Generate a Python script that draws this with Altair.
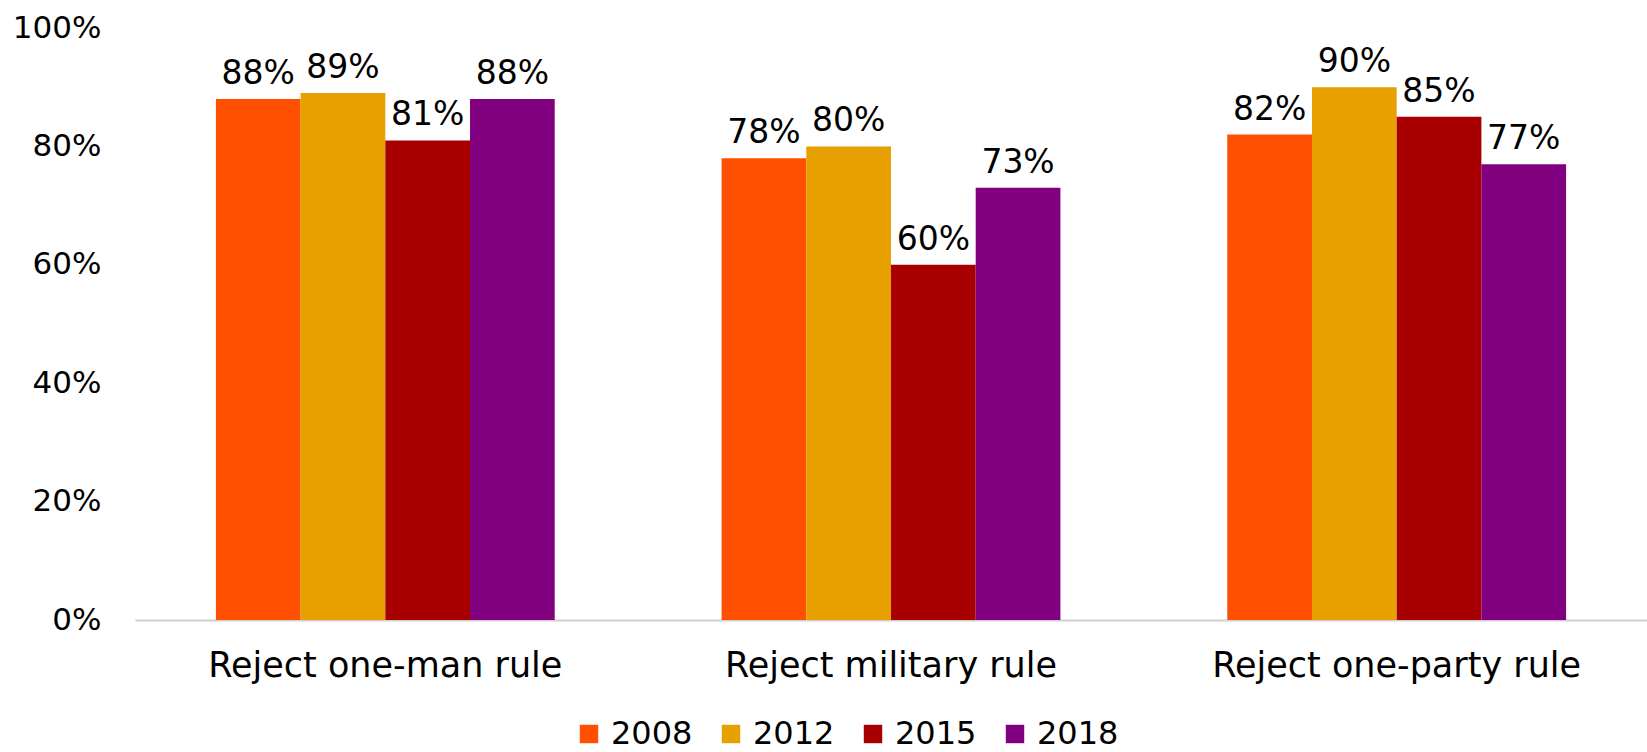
import altair as alt
import pandas as pd

categories = ["Reject one-man rule", "Reject military rule", "Reject one-party rule"]
years = ["2008", "2012", "2015", "2018"]
values_2008 = [88, 78, 82]
values_2012 = [89, 80, 90]
values_2015 = [81, 60, 85]
values_2018 = [88, 73, 77]
colors = ["#FF4F00", "#E8A000", "#A80000", "#800080"]

rows = []
for yr, vals in zip(years, [values_2008, values_2012, values_2015, values_2018]):
    for c, v in zip(categories, vals):
        rows.append({"category": c, "year": yr, "value": v, "label": f"{v}%"})
df = pd.DataFrame(rows)

FONT = "DejaVu Sans"

base = alt.Chart(df).encode(
    x=alt.X("category:N", sort=categories, title=None,
            scale=alt.Scale(paddingInner=0.33, paddingOuter=0.16),
            axis=alt.Axis(labelAngle=0, labelFontSize=35, labelFont=FONT, labelColor="#000000",
                          labelLimit=0, ticks=False, domainColor="#D0D0D0", domainWidth=2,
                          labelPadding=28)),
    xOffset=alt.XOffset("year:N", sort=years),
)

bars = base.mark_bar().encode(
    y=alt.Y("value:Q", title=None,
            scale=alt.Scale(domain=[0, 100]),
            axis=alt.Axis(values=[0, 20, 40, 60, 80, 100], labelExpr="datum.value + '%'",
                          labelFontSize=31, labelFont=FONT, labelColor="#000000",
                          ticks=False, domain=False, grid=False, labelPadding=34)),
    color=alt.Color("year:N", sort=years, title=None,
                    scale=alt.Scale(domain=years, range=colors),
                    legend=alt.Legend(orient="none", legendX=438, legendY=690, direction="horizontal",
                                      symbolType="square", symbolSize=340, symbolStrokeWidth=0,
                                      labelFontSize=32, labelFont=FONT, labelColor="#000000",
                                      columnPadding=22, labelOffset=6)),
)

text = base.mark_text(baseline="bottom", dy=-8, fontSize=33, font=FONT, color="#000000").encode(
    y=alt.Y("value:Q"),
    text="label:N",
)

chart = alt.layer(bars, text).properties(
    width=1512, height=592,
    autosize=alt.AutoSizeParams(type="none"),
    padding={"left": 135, "top": 28, "right": 0, "bottom": 132},
).configure_view(stroke=None).configure_axis(grid=False)

chart.save("out.html", embed_options={"renderer": "svg", "actions": False})
